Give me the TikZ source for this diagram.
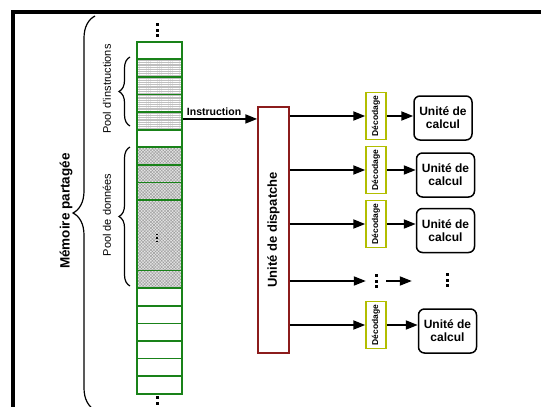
\documentclass[tikz,border=0pt]{standalone}
\usepackage{fontspec}
\setmainfont{Liberation Sans}
\usepackage{graphicx}
\usetikzlibrary{arrows.meta,positioning,decorations.pathreplacing,patterns.meta}

\definecolor{memgreen}{RGB}{25,130,25}
\definecolor{dispred}{RGB}{140,28,28}
\definecolor{decyellow}{RGB}{178,190,0}

% column of three square dots: centre, spacing, dot size
\newcommand{\dotcol}[3]{\foreach \d in {-1,0,1} \fill ([shift={({-#3/2},{\d*#2-#3/2})}]#1) rectangle ++(#3,#3);}

\begin{document}
\begin{tikzpicture}[
  x=1pt, y=-1pt,
  cell/.style={rectangle, draw=memgreen, line width=1.5pt, fill=white, minimum width=45pt, minimum height=17.6pt, inner sep=0pt, anchor=north},
  instr/.style={cell, preaction={fill=gray!50}, pattern={Lines[angle=0,distance=2.2pt,line width=0.9pt]}, pattern color=white},
  data/.style={cell, preaction={fill=gray!20}, pattern={Hatch[angle=45,distance=2.2pt,line width=0.45pt]}, pattern color=gray!75},
  dispbox/.style={rectangle, draw=dispred, line width=1.5pt, minimum width=31pt, minimum height=246pt, inner sep=0pt, font=\bfseries\fontsize{13}{14}\selectfont},
  decbox/.style={rectangle, draw=decyellow, line width=1.5pt, minimum width=20pt, minimum height=47pt, inner sep=0pt, font=\bfseries\fontsize{8.5}{9}\selectfont},
  unitbox/.style={rectangle, rounded corners=6pt, draw=black, line width=1.5pt, align=center, minimum width=58pt, minimum height=44pt, inner sep=1pt, font=\bfseries\fontsize{12}{13}\selectfont},
  brace/.style={decorate, line width=1.2pt},
  lbl/.style={inner sep=0pt, font=\fontsize{11}{12}\selectfont},
  line/.style={-{Triangle[length=12pt,width=9pt]}, line width=1.8pt}
]
\useasboundingbox (0,0) rectangle (541,407);
\clip (0,0) rectangle (541,407);
\draw[line width=4pt] (13,12) rectangle (600,460);

% memory column
\foreach \i/\k in {1/cell,2/instr,3/instr,4/instr,5/instr,6/cell,7/data,8/data,9/data,
                   14/data,15/cell,16/cell,17/cell,18/cell,19/cell,20/cell}
  \node[\k] (c\i) at (159.5,{41+(\i-1)*17.6}) {};
\node[data, minimum height=70.4pt] (c10) at (159.5,199.4) {};
\coordinate (topdots) at (157,30);
\coordinate (botdots) at (157,403);
\coordinate (middots) at (157,238);
\dotcol{topdots}{5.5}{3}
\dotcol{botdots}{5.5}{3}
\dotcol{middots}{3.5}{1.8}

% braces and labels
\draw[brace, decoration={brace, amplitude=11pt}] (130,126) -- (130,57);
\draw[brace, decoration={brace, amplitude=11pt}] (130,286) -- (130,147);
\draw[brace, decoration={brace, amplitude=22pt}] (95,410) -- (95,16);
\node[lbl] (poolinstr) at (107,89) {\rotatebox{90}{Pool d'instructions}};
\node[lbl] (pooldata) at (107,215) {\rotatebox{90}{Pool de données}};
\node[lbl, font=\bfseries\fontsize{13.5}{14}\selectfont] (mem) at (66,211) {\rotatebox{90}{Mémoire partagée}};

% dispatch
\node[dispbox] (disp) at (273.5,230) {\rotatebox{90}{Unité de dispatche}};
\draw[line] ([yshift=2pt]c5.east) -- ([yshift=2pt]c5.east -| disp.west)
  node[pos=0.42, above, inner sep=2pt, font=\bfseries\fontsize{10.5}{11}\selectfont] {Instruction};

% decoders and compute units
\node[decbox] (dec1) at (376,116) {\rotatebox{90}{Décodage}};
\node[decbox] (dec2) at (376,170) {\rotatebox{90}{Décodage}};
\node[decbox] (dec3) at (376,224) {\rotatebox{90}{Décodage}};
\node[minimum width=20pt, inner sep=0pt] (dec4) at (376,281) {};
\node[decbox] (dec5) at (376,325) {\rotatebox{90}{Décodage}};
\dotcol{dec4}{5.5}{3}

\node[unitbox] (unit1) at (443,118) {Unité de\\calcul};
\node[unitbox] (unit2) at (445.5,175) {Unité de\\calcul};
\node[unitbox] (unit3) at (445.5,230.5) {Unité de\\calcul};
\node[minimum width=70pt, inner sep=0pt] (unit4) at (447,280) {};
\node[unitbox] (unit5) at (447.5,331) {Unité de\\calcul};
\dotcol{unit4}{5.5}{3}

\foreach \n in {1,...,5} {
  \draw[line] (disp.east |- dec\n.west) -- (dec\n.west);
  \draw[line] (dec\n.east) -- (dec\n.east -| unit\n.west);
}
\end{tikzpicture}
\end{document}
